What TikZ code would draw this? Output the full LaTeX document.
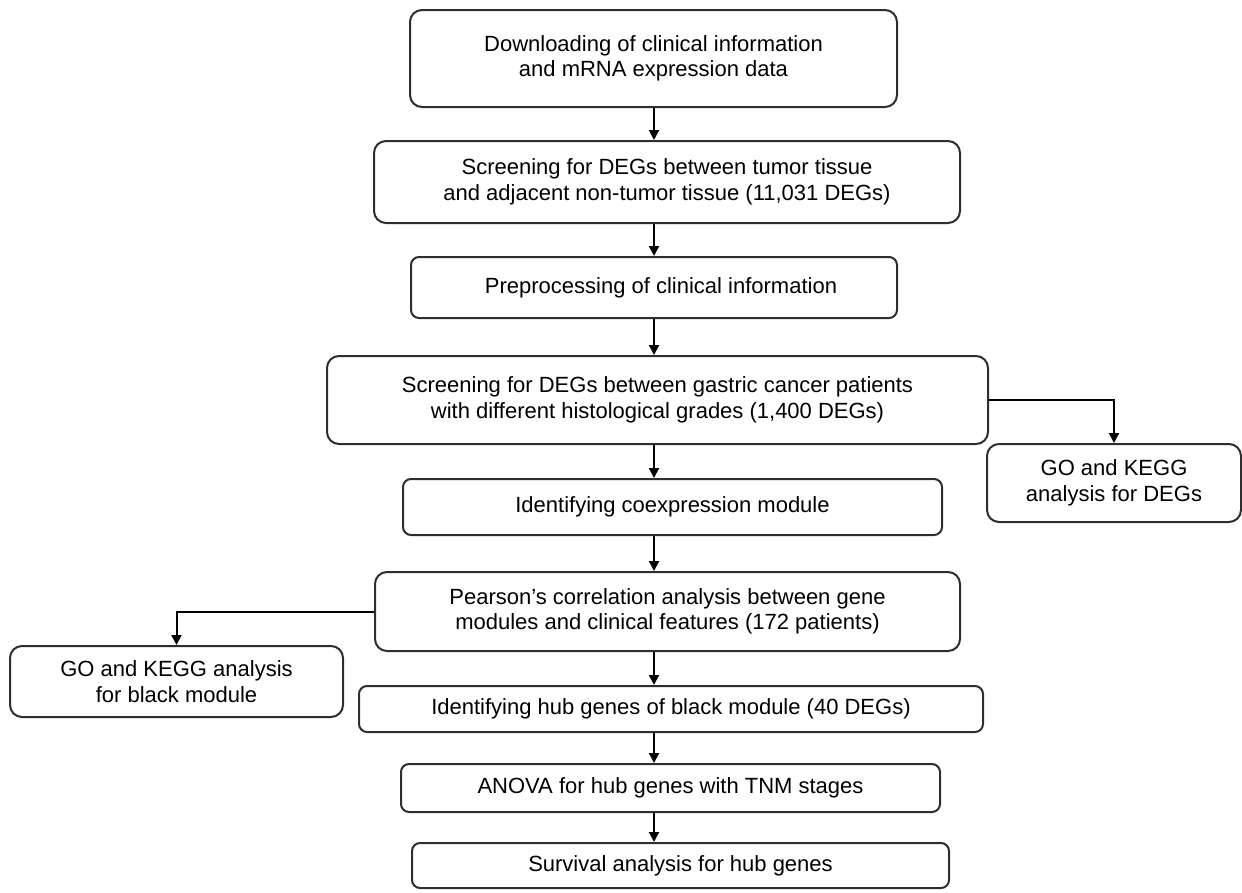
\documentclass[tikz,border=0pt]{standalone}
\usepackage{fontspec}
\setmainfont{Liberation Sans}
\usetikzlibrary{arrows.meta}
\tikzset{
  boxbig/.style={draw=black!82, line width=2pt, rounded corners=12pt, align=center,
    font=\fontsize{22pt}{25.5pt}\selectfont, inner sep=0pt},
  boxsmall/.style={boxbig, rounded corners=8pt},
  arr/.style={draw=black, line width=2pt, -{Triangle[length=10pt,width=10pt]}}
}
\begin{document}
\begin{tikzpicture}[x=1pt,y=-1pt]
\useasboundingbox (0,0) rectangle (1242,892);
\node[boxbig, minimum width=487pt, minimum height=97pt] (b1) at (653.5,58.5)
  {Downloading of clinical information\\and mRNA expression data};
\node[boxbig, minimum width=586pt, minimum height=82pt] (b2) at (667,182)
  {Screening for DEGs between tumor tissue\\and adjacent non-tumor tissue (11,031 DEGs)};
\node[boxsmall, minimum width=486pt, minimum height=61pt] (b3) at (654,287.5)
  {\hspace*{14pt}Preprocessing of clinical information};
\node[boxbig, minimum width=661pt, minimum height=88pt] (b4) at (657.5,400)
  {Screening for DEGs between gastric cancer patients\\with different histological grades (1,400 DEGs)};
\node[boxbig, minimum width=254pt, minimum height=78pt] (b5) at (1114,483)
  {GO and KEGG\\analysis for DEGs};
\node[boxsmall, minimum width=539pt, minimum height=56pt] (b6) at (672.5,507)
  {Identifying coexpression module};
\node[boxbig, minimum width=585pt, minimum height=79pt] (b7) at (667.5,611.5)
  {Pearson’s correlation analysis between gene\\modules and clinical features (172 patients)};
\node[boxbig, minimum width=333pt, minimum height=71pt] (b8) at (176.5,681.5)
  {GO and KEGG analysis\\for black module};
\node[boxsmall, minimum width=624pt, minimum height=46pt] (b9) at (671,709)
  {Identifying hub genes of black module (40 DEGs)};
\node[boxsmall, minimum width=539pt, minimum height=48pt] (b10) at (670.5,788)
  {ANOVA for hub genes with TNM stages};
\node[boxsmall, minimum width=537pt, minimum height=45pt] (b11) at (680.5,865.5)
  {Survival analysis for hub genes};
\coordinate (ax) at (654,0);
\draw[arr] (b1.south -| ax) -- (b2.north -| ax);
\draw[arr] (b2.south -| ax) -- (b3.north -| ax);
\draw[arr] (b3.south -| ax) -- (b4.north -| ax);
\draw[arr] (b4.south -| ax) -- (b6.north -| ax);
\draw[arr] (b6.south -| ax) -- (b7.north -| ax);
\draw[arr] (b7.south -| ax) -- (b9.north -| ax);
\draw[arr] (b9.south -| ax) -- (b10.north -| ax);
\draw[arr] (b10.south -| ax) -- (b11.north -| ax);
\draw[arr] (b4.east) -| (b5.north);
\draw[arr] (b7.west) -| (b8.north);
\end{tikzpicture}
\end{document}
